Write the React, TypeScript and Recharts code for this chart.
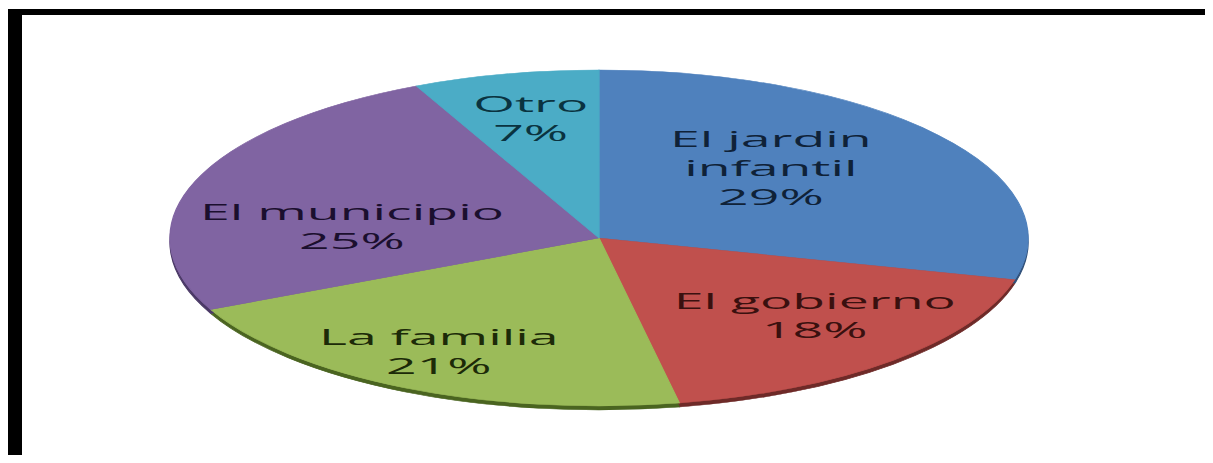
import React from 'react'
import { PieChart, Pie, Cell } from 'recharts'

// who is responsible (share of answers)
const categories = ['El jardin infantil', 'El gobierno', 'La familia', 'El municipio', 'Otro']
const shares = [29, 18, 21, 25, 7]
const labelLines = [['El jardin', 'infantil'], ['El gobierno'], ['La familia'], ['El municipio'], ['Otro']]

const colors = ['#4F81BD', '#C0504D', '#9BBB59', '#8064A2', '#4BACC6']
const edgeColors = ['#2f4f78', '#6e2a28', '#4a6420', '#4a3866', '#2a6e80']
const textColors = ['#0f2238', '#3a100f', '#1c2a08', '#1b0f2e', '#0a3340']
// label placement, as a share of the radius and a nudge of the mid angle (degrees)
const labelRadius = [0.58, 0.68, 0.77, 0.58, 0.73]
const labelTurn = [8.5, 4.5, -2, 13, 0]

const data = categories.map((name, i) => ({ name, value: shares[i] }))

// the picture is a stretched circle: draw it round, then scale it sideways
const RY = 168
const RX = 429
const SX = RX / RY
const SIZE = 2 * RY + 20
const CX = 599
const CY = 238
const FONT = 21
const LINE = 29
const RAD = Math.PI / 180

function renderLabel(props: any) {
  const { cx, cy, midAngle, outerRadius, index, percent } = props
  const r = outerRadius * labelRadius[index]
  const a = (midAngle + labelTurn[index]) * RAD
  const x = cx + r * Math.cos(-a)
  const y = cy + r * Math.sin(-a)
  const lines = [...labelLines[index], `${Math.round(percent * 100)}%`]
  const top = y - ((lines.length - 1) * LINE) / 2
  return (
    <text
      x={x}
      y={top}
      textAnchor="middle"
      dominantBaseline="central"
      fill={textColors[index]}
      fontSize={FONT}
      fontFamily="'Open Sans', sans-serif"
    >
      {lines.map((l, k) => (
        <tspan key={k} x={x} y={top + k * LINE}>
          {l}
        </tspan>
      ))}
    </text>
  )
}

export default function App() {
  return (
    <div style={{ position: 'relative', width: 1213, height: 463, margin: -8, overflow: 'hidden', background: '#fff' }}>
      <div
        style={{
          position: 'absolute',
          left: 8,
          top: 9,
          width: 1205,
          height: 454,
          boxSizing: 'border-box',
          borderLeft: '14px solid #000',
          borderTop: '6px solid #000',
          borderRight: '6px solid #000',
        }}
      />
      <div
        style={{
          position: 'absolute',
          left: CX - SIZE / 2,
          top: CY - SIZE / 2,
          width: SIZE,
          height: SIZE,
          transform: `scaleX(${SX})`,
          transformOrigin: '50% 50%',
        }}
      >
        <PieChart width={SIZE} height={SIZE} margin={{ top: 0, right: 0, bottom: 0, left: 0 }}>
          <Pie
            data={data}
            dataKey="value"
            nameKey="name"
            cx={SIZE / 2}
            cy={SIZE / 2 + 4}
            outerRadius={RY}
            startAngle={90}
            endAngle={-270}
            isAnimationActive={false}
            label={false}
            labelLine={false}
          >
            {data.map((d, i) => (
              <Cell key={d.name} fill={edgeColors[i]} stroke={edgeColors[i]} strokeWidth={0.5} />
            ))}
          </Pie>
          <Pie
            data={data}
            dataKey="value"
            nameKey="name"
            cx={SIZE / 2}
            cy={SIZE / 2}
            outerRadius={RY}
            startAngle={90}
            endAngle={-270}
            isAnimationActive={false}
            label={renderLabel}
            labelLine={false}
          >
            {data.map((d, i) => (
              <Cell key={d.name} fill={colors[i]} stroke={colors[i]} strokeWidth={0.5} />
            ))}
          </Pie>
        </PieChart>
      </div>
    </div>
  )
}
